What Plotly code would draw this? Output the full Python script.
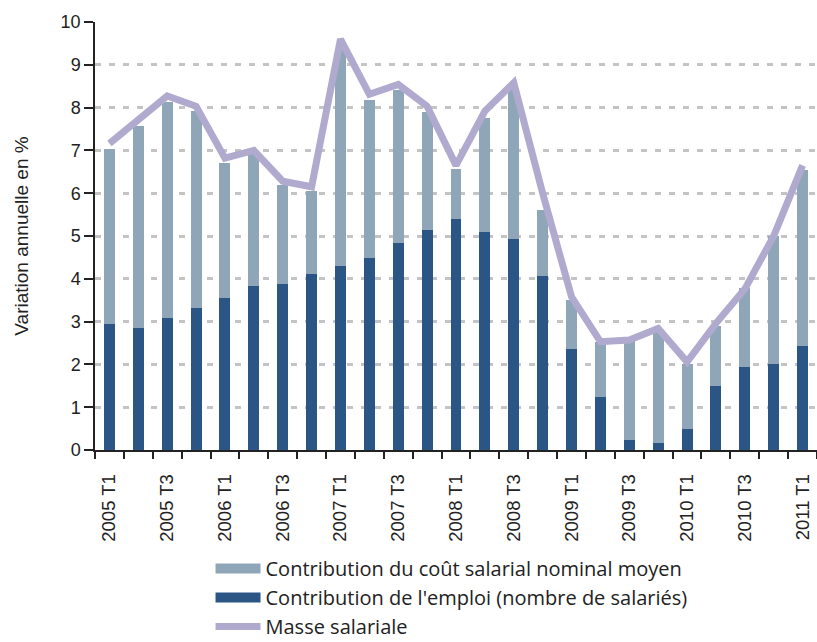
import plotly.graph_objects as go

quarters = ["2005 T1", "2005 T2", "2005 T3", "2005 T4",
            "2006 T1", "2006 T2", "2006 T3", "2006 T4",
            "2007 T1", "2007 T2", "2007 T3", "2007 T4",
            "2008 T1", "2008 T2", "2008 T3", "2008 T4",
            "2009 T1", "2009 T2", "2009 T3", "2009 T4",
            "2010 T1", "2010 T2", "2010 T3", "2010 T4",
            "2011 T1"]

emploi = [2.94, 2.86, 3.08, 3.31, 3.55, 3.84, 3.89, 4.11, 4.30, 4.49,
          4.83, 5.14, 5.40, 5.09, 4.94, 4.07, 2.37, 1.23, 0.24, 0.17,
          0.50, 1.50, 1.95, 2.02, 2.44]

cout_salarial = [4.09, 4.70, 5.06, 4.60, 3.15, 3.11, 2.31, 1.94, 5.05, 3.68,
                 3.58, 2.76, 1.17, 2.66, 3.52, 1.53, 1.14, 1.30, 2.33, 2.63,
                 1.51, 1.40, 1.83, 2.97, 4.11]

masse_salariale = [7.16, 7.70, 8.27, 8.03, 6.82, 7.00, 6.28, 6.15, 9.60, 8.31,
                   8.54, 8.03, 6.65, 7.92, 8.58, 6.00, 3.58, 2.53, 2.57, 2.84,
                   2.06, 2.96, 3.76, 5.00, 6.65]

name_cout = "Contribution du coût salarial nominal moyen"
name_emploi = "Contribution de l'emploi (nombre de salariés)"
name_masse = "Masse salariale"

col_emploi = "#2a5585"
col_cout = "#8fa6b9"
col_masse = "#b1aacf"

x_idx = list(range(len(quarters)))
tick_idx = x_idx[::2]
tick_txt = quarters[::2]

FONT = "Liberation Sans, Arial, sans-serif"

fig = go.Figure()
fig.add_trace(go.Bar(
    x=x_idx, y=emploi, name=name_emploi, showlegend=False,
    marker=dict(color=col_emploi, line=dict(width=0)), width=0.38,
))
fig.add_trace(go.Bar(
    x=x_idx, y=cout_salarial, name=name_cout, showlegend=False,
    marker=dict(color=col_cout, line=dict(width=0)), width=0.38,
))
fig.add_trace(go.Scatter(
    x=x_idx, y=masse_salariale, name=name_masse, mode="lines",
    line=dict(color=col_masse, width=7), legendrank=3, legendgroup="c",
))
# legend-only entries with wide rectangular swatches
fig.add_trace(go.Scatter(
    x=[None], y=[None], name=name_cout, mode="lines",
    line=dict(color=col_cout, width=17), legendrank=1, legendgroup="a",
))
fig.add_trace(go.Scatter(
    x=[None], y=[None], name=name_emploi, mode="lines",
    line=dict(color=col_emploi, width=17), legendrank=2, legendgroup="b",
))

fig.update_layout(
    width=817, height=642,
    barmode="stack",
    plot_bgcolor="white", paper_bgcolor="white",
    margin=dict(l=95, r=0, t=22, b=192),
    font=dict(family=FONT, color="#222222"),
    showlegend=True,
    legend=dict(
        xref="paper", x=0.16, xanchor="left",
        yref="container", y=0.145, yanchor="top",
        font=dict(family="Open Sans, sans-serif", size=20, color="#222222"),
        traceorder="normal", itemwidth=45, tracegroupgap=7,
        bgcolor="rgba(0,0,0,0)",
    ),
    xaxis=dict(
        range=[-0.5, 24.5],
        tickmode="array", tickvals=tick_idx, ticktext=tick_txt,
        tickangle=-90, tickfont=dict(size=18.5, family=FONT),
        ticks="", showgrid=False, zeroline=False, automargin=False,
        showline=True, linecolor="#222222", linewidth=1.5,
        minor=dict(tick0=-0.5, dtick=1, ticks="outside", ticklen=7,
                   tickwidth=1.5, tickcolor="#222222", showgrid=False),
        ticklabelstandoff=15,
    ),
    yaxis=dict(
        range=[0, 10], tickmode="linear", tick0=0, dtick=1,
        tickfont=dict(size=18, family=FONT),
        ticks="outside", ticklen=9, tickwidth=1.5, tickcolor="#222222",
        showline=True, linecolor="#222222", linewidth=1.5,
        showgrid=True, gridcolor="#c4c4c4", gridwidth=3, griddash="6px,8px",
        zeroline=False, automargin=False,
        title=dict(text="Variation annuelle en %", font=dict(size=19, family=FONT),
                   standoff=27),
    ),
)

fig.write_html("out.html", config={"displayModeBar": False},
               post_script="document.body.style.margin='0';")
